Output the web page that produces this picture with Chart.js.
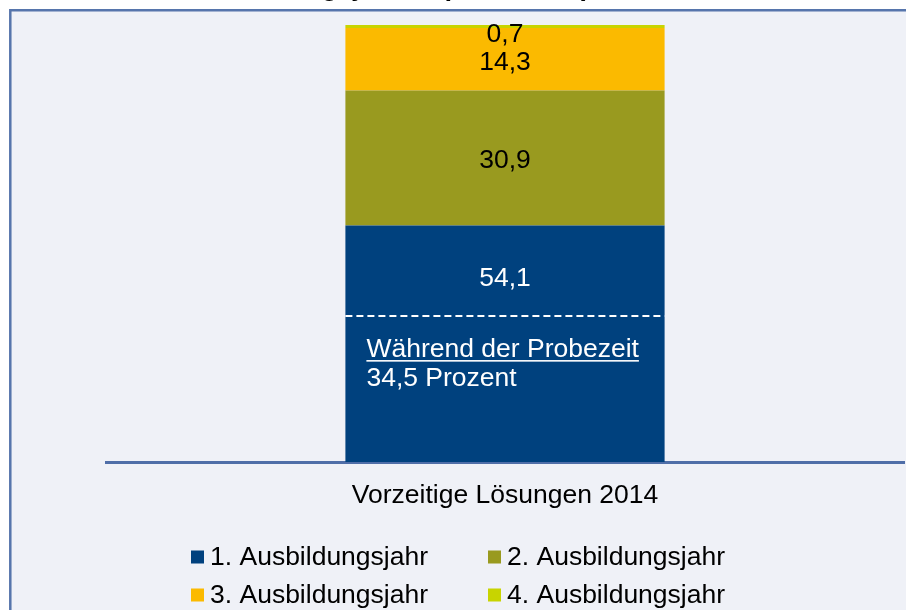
<!DOCTYPE html>
<html><head><meta charset="utf-8">
<script src="https://cdn.jsdelivr.net/npm/chart.js@4/dist/chart.umd.min.js"></script>
<style>html,body{margin:0;padding:0;background:#fff;}canvas{display:block;}</style>
</head><body>
<canvas id="c" width="906" height="610"></canvas>
<script>
// ---- data ----
const categories = ['Vorzeitige Lösungen 2014'];
const seriesLabels = ['1. Ausbildungsjahr', '2. Ausbildungsjahr', '3. Ausbildungsjahr', '4. Ausbildungsjahr'];
const year1 = [54.1];
const year2 = [30.9];
const year3 = [14.3];
const year4 = [0.7];
const probezeitShare = 34.5;        // "Während der Probezeit" value
const probezeitLineValue = 33.4;    // where the dashed marker sits on the scale
const titleText = 'nach Ausbildungsjahren (in Prozent)';
const probezeitHeading = 'Während der Probezeit';

// ---- styles ----
const colors = ['#00417E', '#999A1F', '#FBBA00', '#C8D400'];
const labelColors = ['#ffffff', '#000000', '#000000', '#000000'];
const FONT = '"Liberation Sans", Arial, Helvetica, sans-serif';
const FS = 26.5;
const fmt = v => v.toFixed(1).replace('.', ',');
const seriesValues = [year1, year2, year3, year4];

const panelPlugin = {
  id: 'panel',
  beforeDraw(chart) {
    const ctx = chart.ctx, w = chart.width, h = chart.height;
    ctx.save();
    ctx.fillStyle = '#ffffff';
    ctx.fillRect(0, 0, w, h);
    ctx.fillStyle = '#EFF1F7';
    ctx.fillRect(10, 10, w, h);
    ctx.strokeStyle = '#5675AC';
    ctx.lineWidth = 2.5;
    ctx.beginPath();
    ctx.moveTo(10.3, h + 5);
    ctx.lineTo(10.3, 10.3);
    ctx.lineTo(w + 5, 10.3);
    ctx.stroke();
    // title (mostly cropped above the picture)
    ctx.fillStyle = '#000';
    ctx.font = 'bold 27px ' + FONT;
    ctx.textAlign = 'right';
    ctx.textBaseline = 'alphabetic';
    ctx.fillText(titleText, 590, -5);
    ctx.restore();
  }
};

const labelPlugin = {
  id: 'segLabels',
  afterDatasetsDraw(chart) {
    const ctx = chart.ctx;
    const yScale = chart.scales.y;
    const dashY = yScale.getPixelForValue(probezeitLineValue);
    ctx.save();
    ctx.font = FS + 'px ' + FONT;
    ctx.textAlign = 'center';
    ctx.textBaseline = 'middle';
    chart.data.datasets.forEach((ds, i) => {
      const el = chart.getDatasetMeta(i).data[0];
      const p = el.getProps(['x', 'y', 'base'], true);
      const top = Math.min(p.y, p.base), bottom = Math.max(p.y, p.base);
      let ly;
      if (i === 0) ly = (top + dashY) / 2 + 8;
      else if (i === 3) ly = top + 10;
      else ly = (top + bottom) / 2 + 3;
      ctx.fillStyle = labelColors[i];
      ctx.fillText(fmt(ds.data[0]), p.x, ly);
    });

    // probation marker
    const el0 = chart.getDatasetMeta(0).data[0];
    const q = el0.getProps(['x', 'width'], true);
    const left = q.x - q.width / 2, right = q.x + q.width / 2;
    ctx.strokeStyle = '#ffffff';
    ctx.lineWidth = 2;
    ctx.setLineDash([7, 4]);
    ctx.beginPath();
    ctx.moveTo(left, dashY);
    ctx.lineTo(right, dashY);
    ctx.stroke();
    ctx.setLineDash([]);
    ctx.fillStyle = '#ffffff';
    ctx.textAlign = 'left';
    ctx.textBaseline = 'alphabetic';
    const tx = left + 21;
    ctx.fillText(probezeitHeading, tx, dashY + 41);
    const tw = ctx.measureText(probezeitHeading).width;
    ctx.fillRect(tx, dashY + 44, tw, 1.6);
    ctx.fillText(fmt(probezeitShare) + ' Prozent', tx, dashY + 70);
    ctx.restore();
  }
};

const legendPlugin = {
  id: 'gridLegend',
  afterDraw(chart) {
    const ctx = chart.ctx;
    const cols = [191, 488];
    const rows = [557, 595];
    ctx.save();
    ctx.font = FS + 'px ' + FONT;
    ctx.textAlign = 'left';
    ctx.textBaseline = 'alphabetic';
    chart.data.datasets.forEach((ds, i) => {
      const cx = cols[i % 2], cy = rows[Math.floor(i / 2)];
      ctx.fillStyle = ds.backgroundColor;
      ctx.fillRect(cx, cy - 6.5, 13, 13);
      ctx.fillStyle = '#000';
      ctx.fillText(ds.label, cx + 19, cy + 8);
    });
    ctx.restore();
  }
};

new Chart(document.getElementById('c'), {
  type: 'bar',
  data: {
    labels: categories,
    datasets: seriesLabels.map((lab, i) => ({
      label: lab,
      data: seriesValues[i],
      backgroundColor: colors[i],
      borderWidth: 0,
      barPercentage: 0.4,
      categoryPercentage: 1.0
    }))
  },
  options: {
    responsive: false,
    animation: false,
    devicePixelRatio: 1,
    layout: { padding: { left: 106, right: 2, top: 25, bottom: 78 } },
    plugins: { legend: { display: false }, tooltip: { enabled: false }, title: { display: false } },
    scales: {
      x: {
        stacked: true,
        grid: { display: false, drawTicks: false },
        border: { display: true, color: '#4F6EA8', width: 3 },
        ticks: { color: '#000', font: { size: FS, family: FONT }, padding: 18 },
        afterFit: s => { s.height = 70; }
      },
      y: { stacked: true, display: false, min: 0, max: 100 }
    }
  },
  plugins: [panelPlugin, labelPlugin, legendPlugin]
});
</script>
</body></html>
